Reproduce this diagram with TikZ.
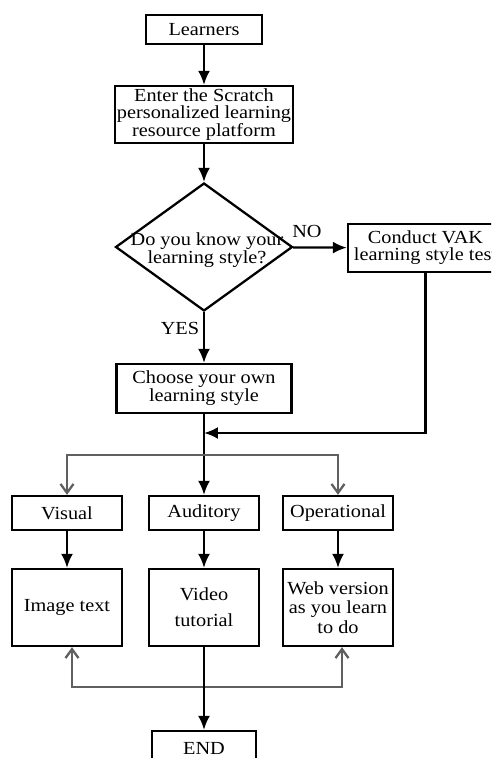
\documentclass[tikz,border=0pt]{standalone}
\usepackage{fontspec}
\setmainfont{Liberation Serif}[FakeStretch=1.1]
\usetikzlibrary{arrows.meta,shapes.geometric}

\begin{document}
\begin{tikzpicture}[x=0.02cm, y=-0.02cm,
  box/.style={draw, line width=1.3pt, align=center, inner sep=1pt, font=\fontsize{10.5}{9.6}\selectfont},
  decision/.style={draw, diamond, line width=1.3pt, inner sep=0pt, minimum width=3.54cm, minimum height=2.56cm},
  arr/.style={-{Latex[length=0.28cm,width=0.24cm]}, line width=1.3pt},
  garr/.style={-{Straight Barb[length=0.18cm,width=0.26cm]}, line width=1.3pt, gray!75!black},
  lbl/.style={font=\fontsize{10.5}{10.5}\selectfont}
]
\useasboundingbox (0,0) rectangle (491,758);
\clip (0,0) rectangle (491,758);
\node[box, minimum width=2.32cm, minimum height=0.58cm] (learn) at (204,29.5) {Learners};
\node[box, minimum width=3.54cm, minimum height=1.14cm] (enter) at (204,114.5) {Enter the Scratch\\personalized learning\\resource platform};
\node[decision] (ask) at (204,247) {};
\node[lbl, align=center, font=\fontsize{10.5}{9.8}\selectfont] (asktext) at (207,250) {Do you know your\\learning style?};
\node[box, minimum width=3.1cm, minimum height=0.96cm] (vak) at (425.5,248) {Conduct VAK\\learning style test};
\node[lbl] (no) at (307,231) {NO};
\node[lbl] (yes) at (180,328) {YES};
\node[box, minimum width=3.5cm, minimum height=0.98cm, font=\fontsize{10.5}{10.2}\selectfont] (choose) at (204,388.5) {Choose your own\\learning style};
\coordinate (join) at (204,433);
\coordinate (split) at (204,455);
\node[box, minimum width=2.2cm, minimum height=0.68cm] (visual) at (67,513) {Visual};
\node[box, minimum width=2.2cm, minimum height=0.68cm] (auditory) at (204,513) {Auditory};
\node[box, minimum width=2.2cm, minimum height=0.68cm] (oper) at (338,513) {Operational};
\node[box, minimum width=2.2cm, minimum height=1.54cm] (img) at (67,607.5) {Image text};
\node[box, minimum width=2.2cm, minimum height=1.54cm, font=\fontsize{10.5}{15}\selectfont] (video) at (204,607.5) {Video\\tutorial};
\node[box, minimum width=2.2cm, minimum height=1.54cm, font=\fontsize{10.5}{11}\selectfont] (web) at (338,607.5) {Web version\\as you learn\\to do};
\coordinate (loop) at (204,687);
\node[box, minimum width=2.08cm, minimum height=0.68cm] (fin) at (204,748) {END};
\draw[arr] (learn) -- (enter);
\draw[arr] (enter) -- (ask);
\draw[arr] (ask) -- (vak);
\draw[arr] (ask) -- (choose);
\draw[arr] (vak) |- (join);
\draw[arr] (choose) -- (auditory);
\draw[garr] (split) -| (visual);
\draw[garr] (split) -| (oper);
\draw[arr] (visual) -- (img);
\draw[arr] (auditory) -- (video);
\draw[arr] (oper) -- (web);
\draw[garr] (loop) -| ([xshift=0.1cm]img.south);
\draw[garr] (loop) -| ([xshift=0.08cm]web.south);
\draw[arr] (video) -- (fin);
\end{tikzpicture}
\end{document}
